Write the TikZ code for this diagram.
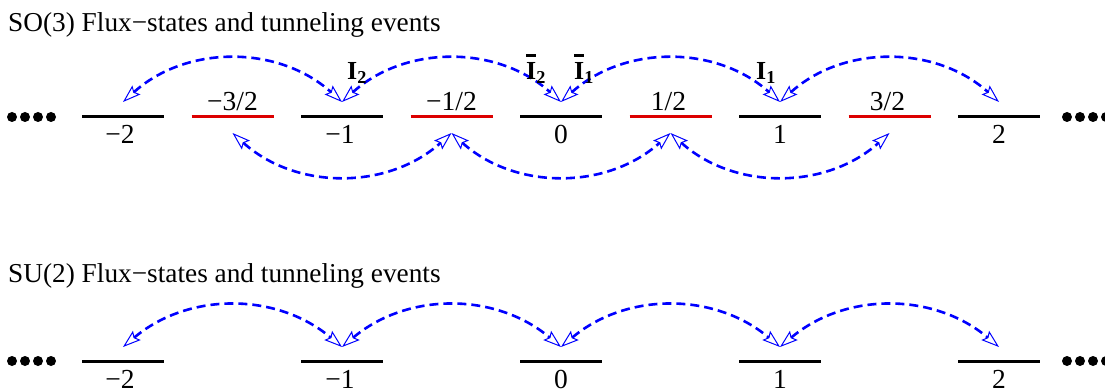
\documentclass[tikz,border=0pt]{standalone}
\usepackage{fontspec}
\setmainfont{Liberation Serif}
\usetikzlibrary{arrows.meta}
\definecolor{lvred}{RGB}{220,0,0}
\newcommand{\barI}{\leavevmode\rlap{\raisebox{23pt}{\rule{10pt}{2.8pt}}}I}
\begin{document}
\begin{tikzpicture}[x=1pt,y=-1pt,
  level/.style={line width=3pt,black},
  halflevel/.style={line width=3pt,lvred},
  tunnel/.style={blue,line width=2.6pt,dash pattern=on 9pt off 5pt,
    {Stealth[open,inset=3pt,length=18pt,width=12pt,line width=1pt]}-{Stealth[open,inset=3pt,length=18pt,width=12pt,line width=1pt]}},
  lab/.style={font=\fontsize{27.5}{29}\selectfont,inner sep=0pt},
  ilab/.style={font=\fontsize{26}{28}\selectfont\bfseries,inner sep=0pt,anchor=base},
  title/.style={font=\fontsize{27.3}{29}\selectfont,inner sep=0pt,anchor=base west},
  dot/.style={black}]
\useasboundingbox (0,0) rectangle (1105,390);
% titles
\node[title] (t1) at (8,32) {SO(3) Flux−states and tunneling events};
\node[title] (t2) at (8,282) {SU(2) Flux−states and tunneling events};
% ---------- row 1 ----------
\foreach \n/\x in {M2/123,M1/342,Z/561,P1/780,P2/999}{
  \coordinate (a\n) at (\x,117);
  \coordinate (au\n) at (\x,102);
  \draw[level] ([xshift=-41pt]a\n) -- ([xshift=41pt]a\n);
}
\foreach \n/\x in {M3/232.5,M1h/451.5,P1h/670.5,P3/889.5}{
  \coordinate (a\n) at (\x,117);
  \coordinate (ad\n) at (\x,133);
  \draw[halflevel] ([xshift=-41pt]a\n) -- ([xshift=41pt]a\n);
}
\node[lab] (la1) at (120,134) {−2};
\node[lab] (la2) at (340,134) {−1};
\node[lab] (la3) at (561,134) {0};
\node[lab] (la4) at (780,134) {1};
\node[lab] (la5) at (999,134) {2};
\node[lab] (lh1) at (232.5,102) {−3/2};
\node[lab] (lh2) at (451.5,102) {−1/2};
\node[lab] (lh3) at (668.5,102) {1/2};
\node[lab] (lh4) at (887.5,102) {3/2};
\draw[tunnel] (auM2) to[bend left=42] (auM1);
\draw[tunnel] (auM1) to[bend left=42] (auZ);
\draw[tunnel] (auZ) to[bend left=42] (auP1);
\draw[tunnel] (auP1) to[bend left=42] (auP2);
\draw[tunnel] (adM3) to[bend right=42] (adM1h);
\draw[tunnel] (adM1h) to[bend right=42] (adP1h);
\draw[tunnel] (adP1h) to[bend right=42] (adP3);
\node[ilab] (i2) at (357,80) {I\textsubscript{2}};
\node[ilab] (bi2) at (536,80) {\barI\textsubscript{2}};
\node[ilab] (bi1) at (584,80) {\barI\textsubscript{1}};
\node[ilab] (i1) at (766,80) {I\textsubscript{1}};
\foreach \x in {12,25,38,51,1067,1080,1093,1106}{\fill[dot] (\x,117) circle (5pt);}
% ---------- row 2 ----------
\foreach \n/\x in {M2/123,M1/342,Z/561,P1/780,P2/999}{
  \coordinate (b\n) at (\x,361);
  \coordinate (bu\n) at (\x,347);
  \draw[level] ([xshift=-41pt]b\n) -- ([xshift=41pt]b\n);
}
\node[lab] (lb1) at (120,379) {−2};
\node[lab] (lb2) at (340,379) {−1};
\node[lab] (lb3) at (561,379) {0};
\node[lab] (lb4) at (780,379) {1};
\node[lab] (lb5) at (999,379) {2};
\draw[tunnel] (buM2) to[bend left=40] (buM1);
\draw[tunnel] (buM1) to[bend left=40] (buZ);
\draw[tunnel] (buZ) to[bend left=40] (buP1);
\draw[tunnel] (buP1) to[bend left=40] (buP2);
\foreach \x in {12,25,38,51,1067,1080,1093,1106}{\fill[dot] (\x,361) circle (5pt);}
\end{tikzpicture}
\end{document}
